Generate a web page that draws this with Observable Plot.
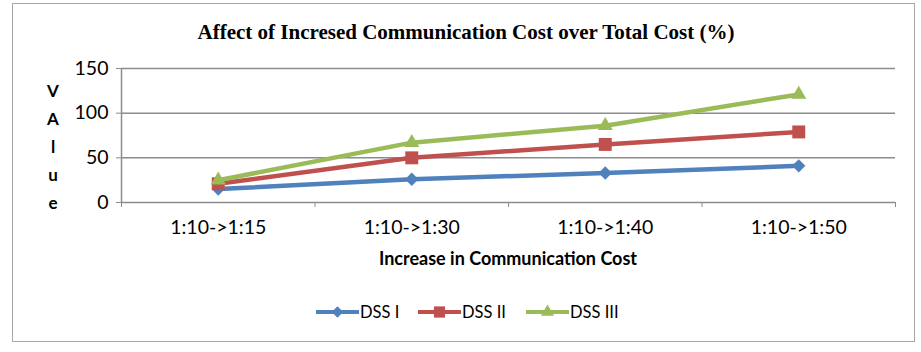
<!DOCTYPE html>
<html>
<head>
<meta charset="utf-8">
<script src="https://cdn.jsdelivr.net/npm/d3@7"></script>
<script src="https://cdn.jsdelivr.net/npm/@observablehq/plot@0.6"></script>
<style>
  body { margin: 0; background: #fff; }
  #chart { position: relative; width: 921px; height: 352px; overflow: hidden; font-family: Lato, sans-serif; color: #000; }
  #border { position: absolute; left: 12px; top: 3px; width: 903px; height: 339px; border: 1.5px solid #a6a6a6; box-sizing: border-box; }
  #plot { position: absolute; left: 0; top: 0; }
  #title { position: absolute; left: 0; width: 932px; top: 19px; text-align: center; font: bold 21px "Liberation Serif", "Times New Roman", serif; line-height: 26px; }
  #ylabel { position: absolute; left: 38px; width: 30px; top: 77px; text-align: center; font: bold 17px Lato, sans-serif; line-height: 28px; }
  #xlabel { position: absolute; left: 208px; width: 600px; top: 247px; text-align: center; font: bold 18px Lato, sans-serif; line-height: 22px; }
  #legend { position: absolute; left: 0; top: 300px; }
</style>
</head>
<body>
<div id="chart">
  <div id="border"></div>
  <div id="title">Affect of Incresed Communication Cost over Total Cost (%)</div>
  <div id="ylabel"></div>
  <div id="xlabel">Increase in Communication Cost</div>
</div>
<script>
// Categories along the x axis
const categories = ["1:10->1:15", "1:10->1:30", "1:10->1:40", "1:10->1:50"];

// Series values (%)
const dssI   = [15, 26, 33, 41];
const dssII  = [21, 50, 65, 79];
const dssIII = [25, 67, 86, 121];

const seriesNames = ["DSS I", "DSS II", "DSS III"];
const seriesValues = [dssI, dssII, dssIII];
const seriesColors = ["#4F81BD", "#C0504D", "#9BBB59"];
const seriesSymbols = ["diamond2", "square", "triangle"];
const seriesRadius = [6, 7.3, 5.6];

const yTicks = [0, 50, 100, 150];
const yLabelText = "VAlue";

// Long-format rows for the line and dot marks
const rows = seriesNames.flatMap((name, k) =>
  seriesValues[k].map((v, i) => ({ series: name, k, idx: i, category: categories[i], value: v }))
);

const gridColor = "#8c8c8c";

const seriesMarks = seriesNames.flatMap((name, k) => {
  const data = rows.filter(d => d.k === k);
  return [
    Plot.line(data, { x: "idx", y: "value", stroke: seriesColors[k], strokeWidth: 4.5, strokeLinejoin: "round" }),
    Plot.dot(data, { x: "idx", y: "value", symbol: seriesSymbols[k], r: seriesRadius[k], fill: seriesColors[k], stroke: "none" })
  ];
});

const chart = Plot.plot({
  width: 921,
  height: 352,
  marginTop: 68,
  marginBottom: 150,
  marginLeft: 121,
  marginRight: 26,
  style: { fontFamily: "Lato, sans-serif", fontSize: "19.5px", color: "#000", background: "transparent", overflow: "visible" },
  x: { type: "linear", domain: [-0.5, categories.length - 0.5] },
  y: { domain: [0, 150] },
  marks: [
    Plot.gridY(yTicks.filter(d => d > 0), { stroke: gridColor, strokeOpacity: 1, strokeWidth: 1.5 }),
    Plot.ruleY([0], { stroke: gridColor, strokeWidth: 1.5 }),
    Plot.ruleX([-0.5], { stroke: gridColor, strokeWidth: 1.5 }),
    Plot.axisY({ ticks: yTicks, tickSize: 5, tickPadding: 8, stroke: gridColor, fill: "#000", label: null }),
    Plot.axisX({ ticks: d3.range(categories.length + 1).map(i => i - 0.5), tickSize: 5, tickFormat: () => "", stroke: gridColor, label: null }),
    Plot.axisX({ ticks: d3.range(categories.length), tickSize: 0, tickPadding: 18, tickFormat: i => categories[i], fill: "#000", label: null }),
    ...seriesMarks
  ]
});
chart.id = "plot";
document.getElementById("chart").insertBefore(chart, document.getElementById("title"));

// Stacked vertical y-axis title
document.getElementById("ylabel").innerHTML = yLabelText.split("").join("<br>");

// Legend: line swatch with the series marker, then the name
const legendX = [316, 418, 526];
const legend = d3.select("#chart").append("svg")
  .attr("id", "legend").attr("width", 921).attr("height", 30);
const symbolTypes = { diamond2: d3.symbolDiamond2, square: d3.symbolSquare, triangle: d3.symbolTriangle };
seriesNames.forEach((name, k) => {
  const x0 = legendX[k], y0 = 12;
  const g = legend.append("g");
  g.append("line").attr("x1", x0).attr("x2", x0 + 43).attr("y1", y0).attr("y2", y0)
    .attr("stroke", seriesColors[k]).attr("stroke-width", 4);
  g.append("path")
    .attr("d", d3.symbol().type(symbolTypes[seriesSymbols[k]]).size(Math.PI * seriesRadius[k] ** 2 * 0.75)())
    .attr("transform", `translate(${x0 + 21.5},${y0})`)
    .attr("fill", seriesColors[k]);
  g.append("text").attr("x", x0 + 44).attr("y", y0).attr("dy", "0.36em")
    .attr("font-family", "Lato, sans-serif").attr("font-size", 16.5).attr("fill", "#000")
    .text(name);
});
</script>
</body>
</html>
